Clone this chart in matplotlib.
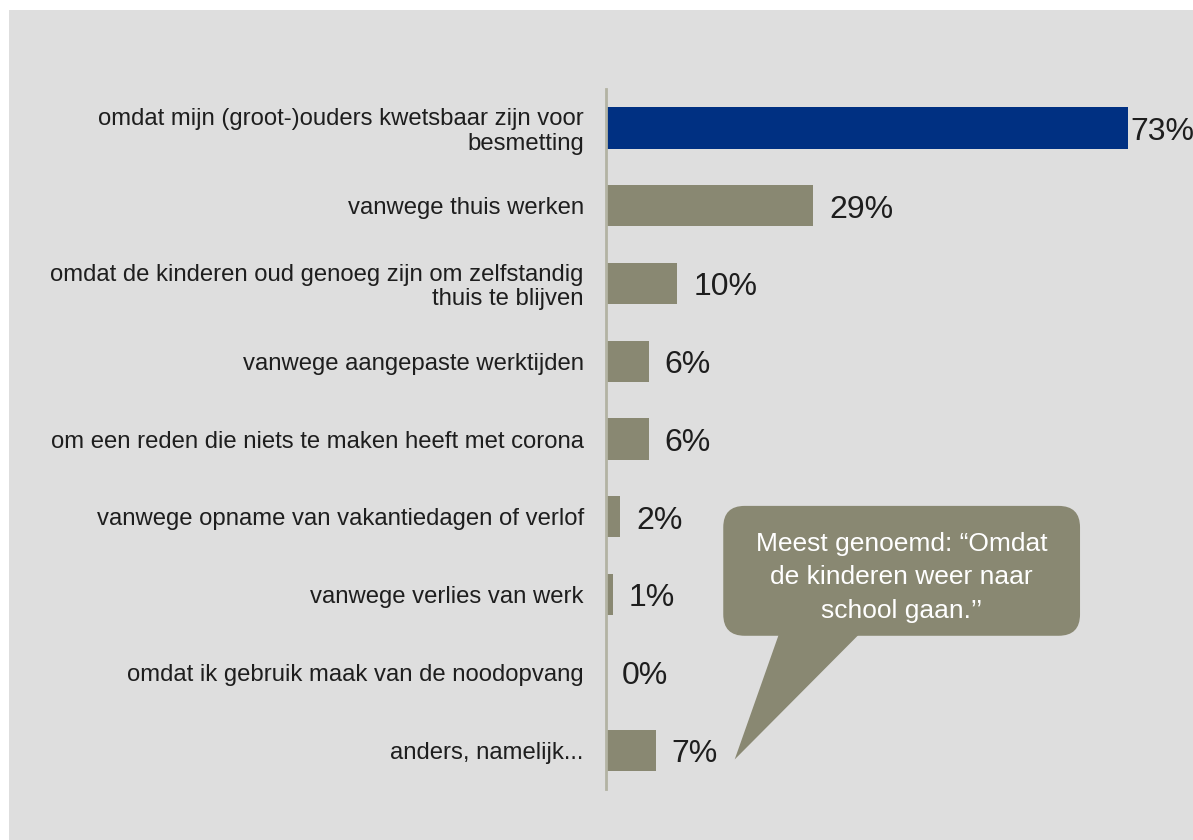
"""
Reasons children are not cared for by grandparents - horizontal bar chart
with a speech-bubble callout.
"""

import matplotlib
matplotlib.use("Agg")
import matplotlib.pyplot as plt
from matplotlib.patches import Rectangle, FancyBboxPatch, Polygon

plt.rcParams["font.family"] = ["Liberation Sans", "DejaVu Sans"]

CATEGORIES = [
    "omdat mijn (groot-)ouders kwetsbaar zijn voor\nbesmetting",
    "vanwege thuis werken",
    "omdat de kinderen oud genoeg zijn om zelfstandig\nthuis te blijven",
    "vanwege aangepaste werktijden",
    "om een reden die niets te maken heeft met corona",
    "vanwege opname van vakantiedagen of verlof",
    "vanwege verlies van werk",
    "omdat ik gebruik maak van de noodopvang",
    "anders, namelijk...",
]
VALUES = [73, 29, 10, 6, 6, 2, 1, 0, 7]
CALLOUT = "Meest genoemd: \u201cOmdat\nde kinderen weer naar\nschool gaan.\u2019\u2019"

BG      = "#dedede"
NAVY    = "#003082"
OLIVE   = "#898872"
AXIS_C  = "#b3b3a3"
TEXT_C  = "#1e1e1e"

fig = plt.figure(figsize=(11.93, 8.4), dpi=100)
fig.patch.set_facecolor("white")
fig.patches.append(Rectangle((9 / 1193, 0), 1, 830 / 840, transform=fig.transFigure,
                             facecolor=BG, edgecolor="none", zorder=-10))

ax = fig.add_axes([606 / 1193, 51 / 840, 587 / 1193, 700 / 840])
ax.set_facecolor("none")

ypos = list(range(len(CATEGORIES)))
colors = [NAVY] + [OLIVE] * (len(VALUES) - 1)
ax.barh(ypos, VALUES, height=0.53, color=colors, edgecolor="none", zorder=2)

xmax = 82.1
ax.set_xlim(0, xmax)
ax.set_ylim(len(CATEGORIES) - 0.5, -0.5)

for y, v in zip(ypos, VALUES):
    off = 0.3 if v == max(VALUES) else 2.2
    ax.text(v + off, y + 0.05, f"{v}%", ha="left", va="center", fontsize=23,
            color=TEXT_C, zorder=3)

ax.set_yticks(ypos)
ax.set_yticklabels(CATEGORIES, fontsize=17.2, color=TEXT_C, linespacing=1.15)
ax.tick_params(axis="y", length=0, pad=16)
ax.set_xticks([])

for side in ["top", "right", "bottom"]:
    ax.spines[side].set_visible(False)
ax.spines["left"].set_color(AXIS_C)
ax.spines["left"].set_linewidth(2)

# speech bubble (data coords; mutation_aspect keeps the corners round)
box_x0, box_x1 = 16.4, 66.3
box_y0, box_y1 = 4.86, 6.53
bubble = FancyBboxPatch((box_x0, box_y0), box_x1 - box_x0, box_y1 - box_y0,
                        boxstyle="round,pad=0,rounding_size=3.0",
                        mutation_aspect=0.0919, facecolor=OLIVE,
                        edgecolor="none", zorder=4, clip_on=False)
ax.add_patch(bubble)
tail = Polygon([(24.6, 6.4), (36.6, 6.4), (18.0, 8.12)], closed=True,
               facecolor=OLIVE, edgecolor="none", zorder=4, clip_on=False)
ax.add_patch(tail)
ax.text((box_x0 + box_x1) / 2, 5.78, CALLOUT, ha="center", va="center",
        fontsize=19, color="white", linespacing=1.5, zorder=5)

fig.savefig("out.png", dpi=100)
